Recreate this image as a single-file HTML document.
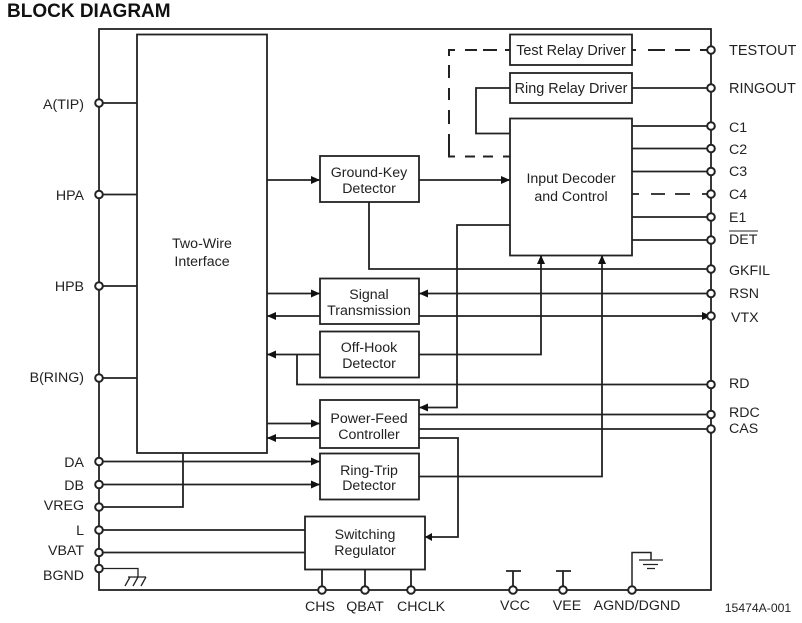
<!DOCTYPE html>
<html>
<head>
<meta charset="utf-8">
<style>
html,body{margin:0;padding:0;background:#fff;}
svg{display:block;}
text{font-family:"Liberation Sans",sans-serif;font-size:14.2px;fill:#222;}
.m{text-anchor:middle;}
.e{text-anchor:end;}
</style>
</head>
<body>
<svg width="802" height="623" viewBox="0 0 802 623" xmlns="http://www.w3.org/2000/svg">
<rect width="802" height="623" fill="#fff"/>
<text x="7" y="17" style="font-size:19px;font-weight:bold;fill:#111">BLOCK DIAGRAM</text>

<g fill="none" stroke="#222" stroke-width="1.800">
<!-- outer -->
<rect x="99" y="29" width="612" height="561"/>
<!-- boxes -->
<rect x="137" y="34.500" width="130" height="418.500"/>
<rect x="510" y="34.500" width="122" height="30.500"/>
<rect x="510" y="73" width="122" height="30"/>
<rect x="510" y="118.500" width="122" height="137"/>
<rect x="320" y="156" width="99" height="46"/>
<rect x="320" y="278.500" width="99" height="45.500"/>
<rect x="320" y="331.500" width="99" height="46"/>
<rect x="320" y="400" width="99" height="48"/>
<rect x="320" y="453.500" width="99" height="46"/>
<rect x="305" y="516.500" width="120" height="53"/>
<!-- left pins -->
<path d="M99 103H137M99 194.500H137M99 286H137M99 378H137"/>
<path d="M99 461.500H320M99 484.500H320"/>
<path d="M99 507H183V453"/>
<path d="M99 530H305M99 552.500H305"/>
<!-- BGND -->
<path d="M99 568.500H138V577" stroke-width="1.300"/>
<path d="M128 577H146M130 577L125 586M138 577L133 586M146 577L141 586" stroke-width="1.300"/>
<!-- two-wire to blocks -->
<path d="M267 180H320M267 293.500H320M267 316H320M267 354.500H320M267 423.500H320M267 438H320"/>
<path d="M297 354.500V384.500H711"/>
<!-- right connections -->
<path d="M419 180H510"/>
<path d="M369 202V269H711"/>
<path d="M419 293.500H711M419 316H711"/>
<path d="M419 354.500H541V255"/>
<path d="M510 225H457V407.500H419"/>
<path d="M419 414.500H711M419 429H711"/>
<path d="M419 438H458V537H425"/>
<path d="M419 476.500H602V255"/>
<!-- input decoder outputs -->
<path d="M632 126H711M632 148.500H711M632 171.500H711M632 217H711M632 240H711"/>
<path d="M632 88H711"/>
<path d="M510 88H476V133.500H510"/>
<!-- dashed -->
<path d="M632 194H639M651 194H665M675 194H690M702 194H708"/>
<path d="M632 50H636M648 50H665M675 50H690M700 50H708" stroke-width="2"/>
<path d="M510 50H505M497 50H483M477 50H465M455 50H449V56M449 65V78M449 88V100M449 110V124M449 134V156.500H455M465 156.500H475M483 156.500H493M503 156.500H510" stroke-width="2"/>
<!-- bottom pins -->
<path d="M322 569.500V590M365 569.500V590M411 569.500V590"/>
<path d="M513 571V590M506 571H521M563 571V590M556 571H571"/>
<path d="M632 590V552.500H651V560" stroke-width="1.500"/>
<path d="M639 560H663M643 564.500H658M647 568.500H655" stroke-width="1.300"/>
</g>

<!-- arrowheads -->
<g fill="#111" stroke="none">
<polygon points="320,180 311,176 311,184"/>
<polygon points="510,180 501,176 501,184"/>
<polygon points="320,293.500 311,289.500 311,297.500"/>
<polygon points="267,316 276,312 276,320"/>
<polygon points="267,354.500 276,350.500 276,358.500"/>
<polygon points="320,423.500 311,419.500 311,427.500"/>
<polygon points="267,438 276,434 276,442"/>
<polygon points="419,293.500 428,289.500 428,297.500"/>
<polygon points="419,407.500 428,403.500 428,411.500"/>
<polygon points="711,316 702,312 702,320"/>
<polygon points="320,461.500 311,457.500 311,465.500"/>
<polygon points="320,484.500 311,480.500 311,488.500"/>
<polygon points="425,537 432,533 432,541"/>
<polygon points="541,255 537,264 545,264"/>
<polygon points="602,255 598,264 606,264"/>
</g>

<!-- pins -->
<g fill="#fff" stroke="#222" stroke-width="2">
<circle cx="99" cy="103" r="3.800"/>
<circle cx="99" cy="194.500" r="3.800"/>
<circle cx="99" cy="286" r="3.800"/>
<circle cx="99" cy="378" r="3.800"/>
<circle cx="99" cy="461.500" r="3.800"/>
<circle cx="99" cy="484.500" r="3.800"/>
<circle cx="99" cy="507" r="3.800"/>
<circle cx="99" cy="530" r="3.800"/>
<circle cx="99" cy="552.500" r="3.800"/>
<circle cx="99" cy="568.500" r="3.800"/>
<circle cx="711" cy="50" r="3.800"/>
<circle cx="711" cy="88" r="3.800"/>
<circle cx="711" cy="126" r="3.800"/>
<circle cx="711" cy="148.500" r="3.800"/>
<circle cx="711" cy="171.500" r="3.800"/>
<circle cx="711" cy="194" r="3.800"/>
<circle cx="711" cy="217" r="3.800"/>
<circle cx="711" cy="240" r="3.800"/>
<circle cx="711" cy="269" r="3.800"/>
<circle cx="711" cy="293.500" r="3.800"/>
<circle cx="711" cy="316" r="3.800"/>
<circle cx="711" cy="384.500" r="3.800"/>
<circle cx="711" cy="414.500" r="3.800"/>
<circle cx="711" cy="429" r="3.800"/>
<circle cx="322" cy="590" r="3.800"/>
<circle cx="365" cy="590" r="3.800"/>
<circle cx="411" cy="590" r="3.800"/>
<circle cx="513" cy="590" r="3.800"/>
<circle cx="563" cy="590" r="3.800"/>
<circle cx="632" cy="590" r="3.800"/>
</g>

<!-- box labels -->
<text class="m" x="202" y="248">Two-Wire</text>
<text class="m" x="202" y="266">Interface</text>
<text class="m" x="571" y="55" style="font-size:14.400px">Test Relay Driver</text>
<text class="m" x="571" y="93" style="font-size:14.400px">Ring Relay Driver</text>
<text class="m" x="571" y="183">Input Decoder</text>
<text class="m" x="571" y="201">and Control</text>
<text class="m" x="369" y="177">Ground-Key</text>
<text class="m" x="369" y="193">Detector</text>
<text class="m" x="369" y="299">Signal</text>
<text class="m" x="369" y="315">Transmission</text>
<text class="m" x="369" y="352">Off-Hook</text>
<text class="m" x="369" y="368">Detector</text>
<text class="m" x="369" y="423">Power-Feed</text>
<text class="m" x="369" y="439">Controller</text>
<text class="m" x="369" y="475">Ring-Trip</text>
<text class="m" x="369" y="490">Detector</text>
<text class="m" x="365" y="539">Switching</text>
<text class="m" x="365" y="555">Regulator</text>

<!-- left labels -->
<text class="e" x="84" y="109">A(TIP)</text>
<text class="e" x="84" y="200">HPA</text>
<text class="e" x="84" y="291">HPB</text>
<text class="e" x="84" y="382">B(RING)</text>
<text class="e" x="84" y="467">DA</text>
<text class="e" x="84" y="490">DB</text>
<text class="e" x="84" y="510">VREG</text>
<text class="e" x="84" y="535">L</text>
<text class="e" x="84" y="555">VBAT</text>
<text class="e" x="84" y="580">BGND</text>

<!-- right labels -->
<g style="font-size:14.500px">
<text x="729" y="55" style="font-size:14.500px">TESTOUT</text>
<text x="729" y="93" style="font-size:14.500px">RINGOUT</text>
</g>
<text x="729" y="132">C1</text>
<text x="729" y="154">C2</text>
<text x="729" y="176">C3</text>
<text x="729" y="199">C4</text>
<text x="729" y="222">E1</text>
<text x="729" y="244">DET</text>
<path d="M729 231H758" stroke="#222" stroke-width="1" fill="none"/>
<text x="729" y="275">GKFIL</text>
<text x="729" y="298">RSN</text>
<text x="731" y="322">VTX</text>
<text x="729" y="388">RD</text>
<text x="729" y="417">RDC</text>
<text x="729" y="433">CAS</text>

<!-- bottom labels -->
<text class="m" x="320" y="611">CHS</text>
<text class="m" x="365" y="611">QBAT</text>
<text class="m" x="421" y="611">CHCLK</text>
<text class="m" x="515" y="610">VCC</text>
<text class="m" x="567" y="610">VEE</text>
<text class="m" x="637" y="610">AGND/DGND</text>
<text class="m" x="758" y="612" style="font-size:12.200px">15474A-001</text>
</svg>
</body>
</html>
